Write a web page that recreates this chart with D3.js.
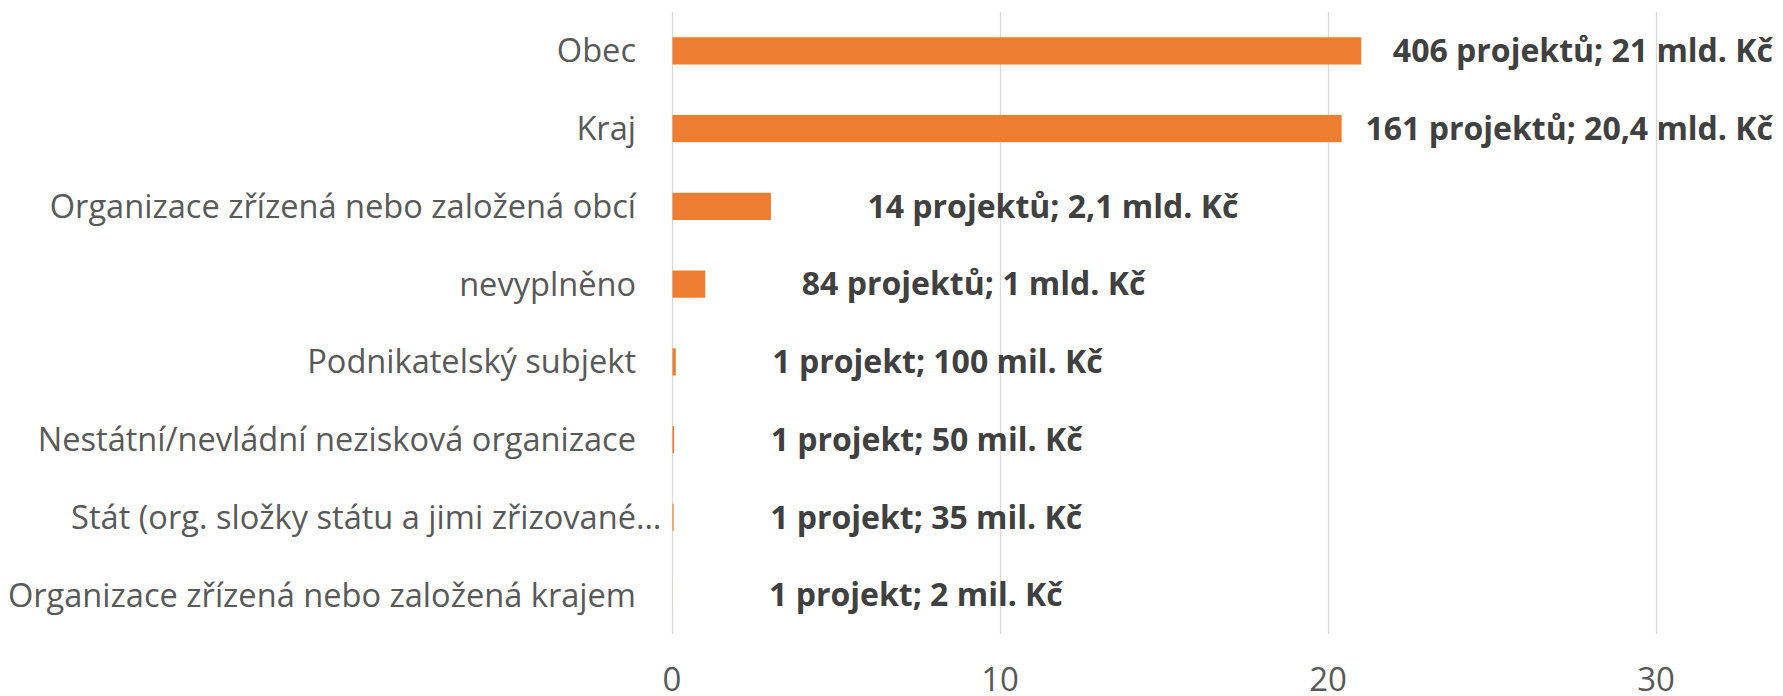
<!DOCTYPE html>
<html>
<head>
<meta charset="utf-8">
<script src="https://cdn.jsdelivr.net/npm/d3@7"></script>
<style>
  body { margin: 0; background: #fff; }
  text { font-family: "Open Sans", sans-serif; }
</style>
</head>
<body>
<svg id="chart" width="1783" height="696"></svg>
<script>
var categories = [
    "Obec",
    "Kraj",
    "Organizace zřízená nebo založená obcí",
    "nevyplněno",
    "Podnikatelský subjekt",
    "Nestátní/nevládní nezisková organizace",
    "Stát (org. složky státu a jimi zřizované…",
    "Organizace zřízená nebo založená krajem"
];
var values = [21, 20.4, 3.0, 1.0, 0.1, 0.05, 0.035, 0.002];
var dataLabels = [
    "406 projektů; 21 mld. Kč",
    "161 projektů; 20,4 mld. Kč",
    "14 projektů; 2,1 mld. Kč",
    "84 projektů; 1 mld. Kč",
    "1 projekt; 100 mil. Kč",
    "1 projekt; 50 mil. Kč",
    "1 projekt; 35 mil. Kč",
    "1 projekt; 2 mil. Kč"
];
var tickValues = [0, 10, 20, 30];

var plot = { left: 672, right: 1656, top: 12, bottom: 634 };

var svg = d3.select('svg#chart');

var x = d3.scaleLinear().domain([0, 30]).range([plot.left, plot.right]);
var y = d3.scaleBand()
    .domain(categories)
    .range([plot.top, plot.bottom])
    .paddingInner(0.65)
    .paddingOuter(0.325);

// gridlines
svg.append('g').selectAll('line')
    .data(tickValues)
    .enter().append('line')
    .attr('x1', d => Math.round(x(d)) + 0.5)
    .attr('x2', d => Math.round(x(d)) + 0.5)
    .attr('y1', plot.top)
    .attr('y2', plot.bottom)
    .attr('stroke', '#d9d9d9')
    .attr('stroke-width', 1.3);

// x tick labels
svg.append('g').selectAll('text')
    .data(tickValues)
    .enter().append('text')
    .attr('x', d => x(d))
    .attr('y', 691)
    .attr('text-anchor', 'middle')
    .attr('fill', '#595959')
    .style('font-size', '33px')
    .text(d => d);

// bars
svg.append('g').selectAll('rect')
    .data(values)
    .enter().append('rect')
    .attr('x', x(0) + 0.5)
    .attr('y', (d, i) => y(categories[i]))
    .attr('width', d => x(d) - x(0))
    .attr('height', y.bandwidth())
    .attr('fill', '#ed7d31');

// category labels
var cat = svg.append('g').selectAll('text')
    .data(categories)
    .enter().append('text')
    .attr('y', d => y(d) + y.bandwidth() / 2)
    .attr('dy', '0.35em')
    .attr('text-anchor', 'end')
    .attr('fill', '#595959')
    .style('font-size', '32.6px')
    .text(d => d);

// truncated label: the ellipsis hangs past the common right edge
cat.attr('x', function (d) {
    var shift = 0;
    if (d.endsWith('…')) {
        var t = svg.append('text').style('font-size', '32.6px').text('…');
        shift = t.node().getComputedTextLength();
        t.remove();
    }
    return 636 + shift;
});

// data labels
svg.append('g').selectAll('text')
    .data(dataLabels)
    .enter().append('text')
    .attr('y', (d, i) => y(categories[i]) + y.bandwidth() / 2)
    .attr('dy', '0.35em')
    .attr('fill', '#404040')
    .style('font-size', '32px')
    .style('font-weight', 'bold')
    .text(d => d)
    .attr('x', function (d, i) {
        var w = this.getComputedTextLength();
        return Math.min(x(values[i]) + 97, 1773 - w);
    });
</script>
</body>
</html>
